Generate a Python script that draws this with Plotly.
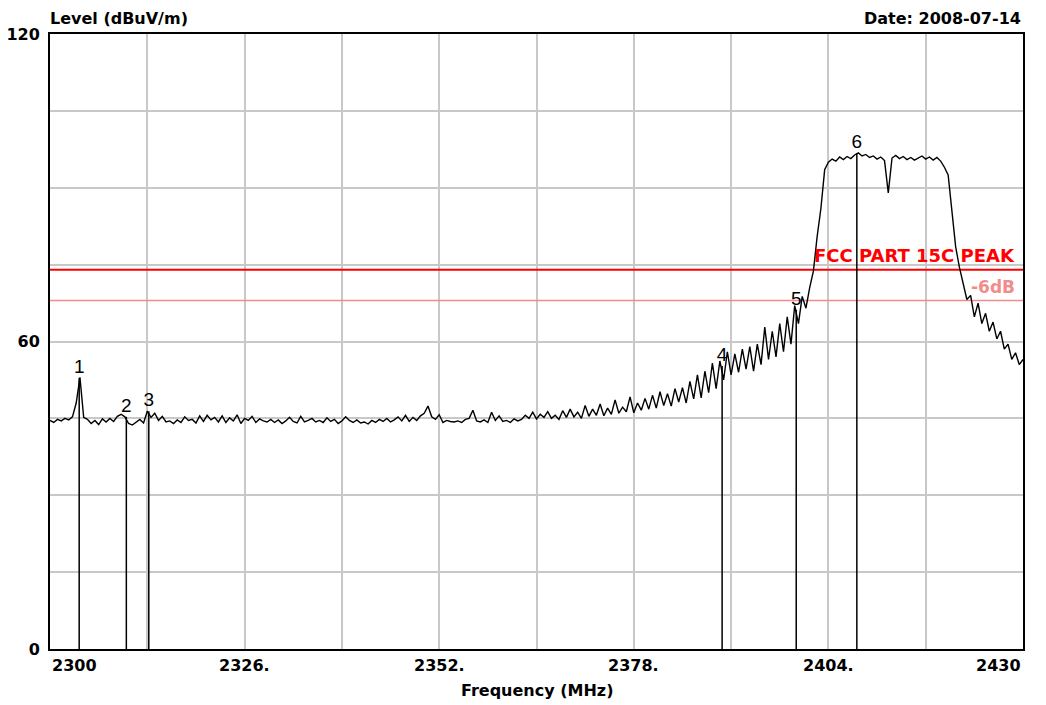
import plotly.graph_objects as go

# Sweep 2300 - 2430 MHz, one reading every 0.5 MHz (dBuV/m)
f_start = 2300.0
f_step = 0.5
level = [
    44.6, 44.2, 44.8, 44.5, 45.0, 44.7, 45.3, 48.0, 53.0, 45.2,
    44.8, 44.0, 44.6, 43.8, 44.9, 44.3, 45.0, 44.4, 45.4, 45.8,
    45.3, 44.0, 43.7, 44.2, 44.8, 44.1, 46.4, 45.2, 46.0, 44.6,
    45.4, 44.3, 44.5, 44.0, 44.7, 44.2, 45.3, 44.6, 44.8, 44.1,
    45.5, 44.4, 45.6, 44.7, 45.2, 44.3, 45.5, 44.2, 45.1, 44.5,
    45.7, 44.0, 45.0, 44.6, 45.4, 44.2, 44.9, 44.5, 44.3, 44.8,
    44.2, 44.7, 44.0, 44.5, 45.2, 44.4, 44.1, 45.4, 44.3, 44.6,
    45.0, 44.3, 44.6, 44.2, 45.1, 44.4, 44.8, 44.0, 44.5, 45.3,
    44.6, 44.2, 44.7, 44.1, 44.3, 43.9, 44.6, 44.2, 44.8, 44.4,
    45.0, 44.3, 44.7, 45.3, 44.5, 45.6, 44.4, 45.2, 44.6, 45.5,
    46.0, 47.4, 45.3, 44.8, 45.7, 44.2, 44.6, 44.4, 44.3, 44.5,
    44.2, 44.8, 45.0, 46.6, 44.5, 44.3, 44.7, 44.2, 46.2, 44.6,
    45.5, 44.4, 44.6, 44.2, 44.9, 44.5, 44.8, 45.6, 45.0, 46.2,
    44.9, 45.8, 45.2, 46.3, 45.0, 45.6, 44.8, 46.5, 45.2, 46.8,
    45.3, 46.2, 45.0, 47.5, 45.4, 46.8, 45.6, 47.8, 45.5, 47.0,
    45.8, 48.6, 46.0, 47.2, 46.3, 49.2, 46.1, 48.0, 46.6, 48.9,
    46.8, 49.5, 47.0, 50.2, 47.5, 49.8, 47.4, 50.8, 48.2, 51.0,
    48.0, 52.2, 48.8, 53.5, 49.0, 54.2, 50.0, 55.8, 50.8, 56.2,
    52.5, 58.0, 53.5, 57.6, 54.0, 58.5, 54.6, 59.0, 54.2, 59.5,
    55.5, 62.8, 56.5, 62.0, 57.0, 63.5, 58.0, 64.8, 59.5, 67.0,
    63.5, 68.8, 66.5, 70.5, 73.8, 80.5, 86.0, 93.5, 95.0, 95.6,
    95.2, 96.0, 95.5, 96.1, 95.7, 96.4, 96.8, 96.2, 96.5, 95.9,
    96.2, 95.6, 96.0, 95.3, 89.0, 95.8, 96.3, 95.7, 96.1, 95.5,
    95.9, 95.4, 95.8, 96.2, 95.6, 96.0, 95.4, 95.9, 95.2, 94.0,
    92.5, 85.0, 78.5, 74.5, 71.0, 68.2, 69.0, 64.8, 67.5, 63.5,
    65.5, 62.0, 63.8, 60.5, 62.0, 58.5, 59.5, 56.5, 57.8, 55.5,
    56.5,
]
freq = [f_start + f_step * i for i in range(len(level))]

# marker table
marker_no = ['1', '2', '3', '4', '5', '6']
marker_freq = [2303.9, 2310.2, 2313.2, 2389.8, 2399.7, 2407.8]
marker_level = [52.9, 45.3, 46.4, 55.2, 66.2, 96.8]

# limit lines
limit_names = ['FCC PART 15C PEAK', '-6dB']
limit_levels = [74, 68]
limit_colors = ['#ff0000', '#f28c8c']

x_grid = [2300 + 13 * i for i in range(11)]
x_labels = ['2300', '2326.', '2352.', '2378.', '2404.', '2430']
x_label_pos = [2300, 2326, 2352, 2378, 2404, 2430]
y_grid = [0, 15, 30, 45, 60, 75, 90, 105, 120]
y_text = ['0', '', '', '', '60', '', '', '', '120']

FONT = 'DejaVu Sans'

fig = go.Figure()

for name, lv, col in zip(limit_names, limit_levels, limit_colors):
    fig.add_trace(go.Scatter(x=[2300, 2430], y=[lv, lv], mode='lines',
                             line=dict(color=col, width=2 if lv == 74 else 1.5),
                             hoverinfo='skip', showlegend=False))

fig.add_trace(go.Scatter(x=freq, y=level, mode='lines',
                         line=dict(color='black', width=1.4),
                         showlegend=False))

# vertical marker lines
mx, my = [], []
for f, lv in zip(marker_freq, marker_level):
    mx += [f, f, None]
    my += [0, lv, None]
fig.add_trace(go.Scatter(x=mx, y=my, mode='lines',
                         line=dict(color='black', width=1.5),
                         hoverinfo='skip', showlegend=False))
fig.add_trace(go.Scatter(x=marker_freq, y=marker_level, mode='text',
                         text=marker_no, textposition='top center',
                         textfont=dict(family='Liberation Sans', size=19, color='black'),
                         showlegend=False))

annotations = []
for name, lv, col in zip(limit_names, limit_levels, limit_colors):
    annotations.append(dict(x=2430, y=lv, xref='x', yref='y', text=name,
                            showarrow=False, xanchor='right', yanchor='bottom',
                            xshift=-6, yshift=2,
                            font=dict(family=FONT, size=18 if lv == 74 else 17,
                                      color=col, weight='bold')))

for pos, lab in zip(x_label_pos, x_labels):
    anchor = 'left' if pos == 2300 else ('right' if pos == 2430 else 'center')
    annotations.append(dict(x=pos, y=0, xref='x', yref='paper', text=lab,
                            showarrow=False, xanchor=anchor, yanchor='middle',
                            yshift=-16,
                            font=dict(family=FONT, size=16, color='black', weight='bold')))

annotations.append(dict(x=0.5, y=0, xref='paper', yref='paper', text='Frequency (MHz)',
                        showarrow=False, xanchor='center', yanchor='middle', yshift=-41,
                        font=dict(family=FONT, size=16, color='black', weight='bold')))
annotations.append(dict(x=0, y=1, xref='paper', yref='paper', text='Level (dBuV/m)',
                        showarrow=False, xanchor='left', yanchor='middle', yshift=16,
                        xshift=-2,
                        font=dict(family=FONT, size=16, color='black', weight='bold')))
annotations.append(dict(x=1, y=1, xref='paper', yref='paper', text='Date: 2008-07-14',
                        showarrow=False, xanchor='right', yanchor='middle', yshift=16,
                        font=dict(family=FONT, size=16, color='black', weight='bold')))

fig.update_layout(
    width=1046, height=705,
    margin=dict(l=50, r=23, t=34, b=56),
    paper_bgcolor='white', plot_bgcolor='white',
    annotations=annotations,
    xaxis=dict(range=[2300, 2430], tickvals=x_grid, showticklabels=False,
               showgrid=True, gridcolor='#c8c8c8', gridwidth=1.5, zeroline=False,
               showline=True, linecolor='black', linewidth=2, mirror=True, ticks='',
               automargin=False),
    yaxis=dict(range=[0, 120], tickvals=y_grid, ticktext=y_text,
               showgrid=True, gridcolor='#c8c8c8', gridwidth=1.5, zeroline=False,
               showline=True, linecolor='black', linewidth=2, mirror=True, ticks='',
               ticklabelstandoff=5, automargin=False,
               tickfont=dict(family=FONT, size=16, color='black', weight='bold')),
)

fig.write_html("out.html", config={'displayModeBar': False},
               post_script="document.body.style.margin='0';")
